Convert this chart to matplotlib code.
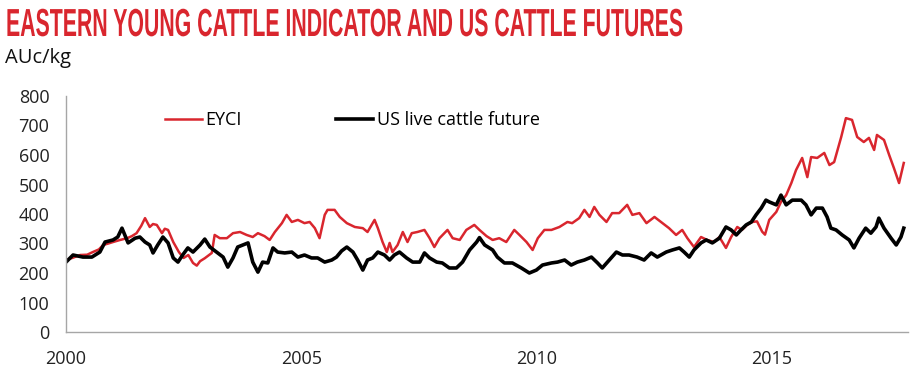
import matplotlib

matplotlib.use("Agg")
import matplotlib.pyplot as plt
from matplotlib.patheffects import AbstractPathEffect
from matplotlib.transforms import Affine2D

RED = "#d9262e"
TITLE = "EASTERN YOUNG CATTLE INDICATOR AND US CATTLE FUTURES"
UNIT = "AUc/kg"
XTICKS = [2000, 2005, 2010, 2015]
YTICKS = list(range(0, 801, 100))

# EYCI (decimal year, AUc/kg)
eyci_year = [
    2000.0, 2000.15, 2000.3, 2000.45, 2000.57, 2000.7, 2000.79, 2000.9, 2001.0, 2001.15,
    2001.3, 2001.4, 2001.5, 2001.6, 2001.68, 2001.78, 2001.85, 2001.93, 2002.04, 2002.1,
    2002.17, 2002.28, 2002.4, 2002.5, 2002.6, 2002.7, 2002.78, 2002.85, 2002.95, 2003.05,
    2003.1, 2003.16, 2003.27, 2003.42, 2003.55, 2003.7, 2003.84, 2003.97, 2004.08, 2004.22,
    2004.33, 2004.44, 2004.59, 2004.69, 2004.8, 2004.93, 2005.07, 2005.18, 2005.29, 2005.39,
    2005.5, 2005.56, 2005.71, 2005.82, 2005.97, 2006.14, 2006.31, 2006.41, 2006.56, 2006.63,
    2006.73, 2006.82, 2006.88, 2006.94, 2007.05, 2007.16, 2007.26, 2007.35, 2007.47, 2007.62,
    2007.73, 2007.83, 2007.94, 2008.11, 2008.22, 2008.37, 2008.51, 2008.68, 2008.79, 2008.94,
    2009.07, 2009.21, 2009.36, 2009.53, 2009.64, 2009.79, 2009.92, 2010.03, 2010.17, 2010.32,
    2010.49, 2010.66, 2010.76, 2010.91, 2011.02, 2011.13, 2011.23, 2011.34, 2011.49, 2011.61,
    2011.76, 2011.93, 2012.04, 2012.19, 2012.34, 2012.51, 2012.68, 2012.82, 2012.97, 2013.1,
    2013.21, 2013.35, 2013.5, 2013.63, 2013.78, 2013.89, 2014.03, 2014.14, 2014.27, 2014.37,
    2014.48, 2014.59, 2014.69, 2014.8, 2014.86, 2014.95, 2015.1, 2015.2, 2015.31, 2015.42,
    2015.52, 2015.65, 2015.76, 2015.84, 2015.97, 2016.12, 2016.23, 2016.33, 2016.48, 2016.58,
    2016.71, 2016.82, 2016.96, 2017.07, 2017.18, 2017.24, 2017.39, 2017.5, 2017.6, 2017.71,
    2017.81,
]
eyci = [
    244, 252, 261, 262, 271, 280, 295, 300, 305, 312,
    318, 325, 335, 360, 386, 356, 366, 363, 335, 350,
    346, 305, 271, 251, 261, 234, 225, 240, 250, 262,
    268, 329, 318, 318, 335, 339, 329, 322, 335, 325,
    312, 339, 369, 397, 373, 380, 369, 373, 352, 318,
    397, 414, 414, 390, 369, 356, 352, 339, 380, 352,
    305, 271, 302, 271, 295, 339, 305, 335, 339, 346,
    318, 288, 318, 346, 318, 312, 346, 363, 346, 325,
    312, 318, 305, 346, 329, 305, 278, 318, 346, 346,
    356, 373, 369, 386, 414, 390, 424, 397, 373, 403,
    403, 431, 397, 403, 369, 390, 369, 352, 329, 346,
    318, 288, 322, 312, 305, 322, 285, 322, 356, 346,
    363, 373, 375, 340, 330, 380, 407, 441, 464, 505,
    549, 590, 525, 593, 590, 607, 566, 576, 661, 725,
    719, 661, 644, 658, 617, 668, 651, 600, 556, 505,
    573,
]

# US live cattle future (decimal year, AUc/kg)
us_year = [
    2000.0, 2000.15, 2000.36, 2000.55, 2000.72, 2000.83, 2001.0, 2001.1, 2001.19, 2001.25,
    2001.32, 2001.47, 2001.57, 2001.68, 2001.78, 2001.85, 2001.95, 2002.06, 2002.17, 2002.28,
    2002.38, 2002.48, 2002.59, 2002.7, 2002.85, 2002.95, 2003.06, 2003.2, 2003.34, 2003.44,
    2003.55, 2003.65, 2003.76, 2003.87, 2003.97, 2004.08, 2004.18, 2004.29, 2004.4, 2004.5,
    2004.65, 2004.8, 2004.93, 2005.07, 2005.22, 2005.35, 2005.5, 2005.65, 2005.75, 2005.86,
    2005.97, 2006.1, 2006.2, 2006.31, 2006.41, 2006.52, 2006.63, 2006.77, 2006.88, 2006.98,
    2007.09, 2007.24, 2007.37, 2007.52, 2007.62, 2007.73, 2007.88, 2008.0, 2008.15, 2008.3,
    2008.43, 2008.58, 2008.73, 2008.79, 2008.9, 2009.07, 2009.17, 2009.32, 2009.49, 2009.68,
    2009.85, 2010.0, 2010.13, 2010.32, 2010.45, 2010.6, 2010.74, 2010.87, 2011.02, 2011.17,
    2011.3, 2011.4, 2011.55, 2011.7, 2011.83, 2011.97, 2012.14, 2012.29, 2012.44, 2012.57,
    2012.76, 2012.89, 2013.04, 2013.14, 2013.25, 2013.35, 2013.5, 2013.61, 2013.74, 2013.89,
    2014.03, 2014.14, 2014.25, 2014.35, 2014.46, 2014.57, 2014.67, 2014.78, 2014.88, 2014.95,
    2015.1, 2015.2, 2015.31, 2015.44, 2015.63, 2015.73, 2015.84, 2015.95, 2016.08, 2016.18,
    2016.26, 2016.37, 2016.5, 2016.65, 2016.75, 2016.86, 2017.0, 2017.11, 2017.22, 2017.28,
    2017.39, 2017.54, 2017.65, 2017.75, 2017.81,
]
us = [
    237, 261, 254, 254, 271, 305, 312, 322, 352, 329,
    302, 318, 322, 305, 295, 268, 295, 322, 302, 251,
    237, 261, 285, 271, 295, 315, 288, 271, 254, 220,
    251, 288, 295, 302, 237, 203, 237, 234, 285, 271,
    268, 271, 254, 261, 251, 251, 237, 244, 254, 275,
    288, 271, 244, 210, 244, 251, 271, 261, 244, 261,
    271, 251, 237, 237, 268, 251, 237, 234, 217, 217,
    237, 278, 305, 320, 295, 278, 254, 234, 234, 217,
    200, 210, 227, 234, 237, 244, 227, 237, 244, 254,
    234, 217, 244, 271, 261, 261, 254, 244, 268, 254,
    271, 278, 285, 271, 254, 278, 302, 312, 302, 318,
    356, 346, 329, 346, 363, 373, 397, 420, 447, 441,
    431, 464, 431, 447, 447, 431, 397, 420, 420, 390,
    352, 346, 329, 312, 285, 318, 352, 335, 356, 386,
    352, 318, 295, 322, 352,
]


class Squeeze(AbstractPathEffect):
    """Draw text glyphs scaled about an anchor point (mimics a condensed display face)."""

    def __init__(self, x0, y0, sx, sy):
        super().__init__()
        self._t = Affine2D().translate(-x0, -y0).scale(sx, sy).translate(x0, y0)

    def draw_path(self, renderer, gc, tpath, affine, rgbFace=None):
        renderer.draw_path(gc, tpath, affine + self._t, rgbFace)


plt.rcParams["font.family"] = ["Open Sans", "DejaVu Sans"]

W, H = 912, 371
fig = plt.figure(figsize=(W / 100, H / 100), dpi=100)
ax = fig.add_axes([66 / W, 1 - 332 / H, 842 / W, 236 / H])

ax.plot(eyci_year, eyci, color=RED, lw=1.8, label="EYCI")
ax.plot(us_year, us, color="black", lw=2.6, label="US live cattle future")

ax.set_xlim(2000, 2017.9)
ax.set_ylim(0, 800)
ax.set_xticks(XTICKS)
ax.set_yticks(YTICKS)
ax.tick_params(length=0, labelsize=13, colors="#222222")
ax.tick_params(axis="y", pad=12)
ax.tick_params(axis="x", pad=13)
for side in ("top", "right"):
    ax.spines[side].set_visible(False)
for side in ("left", "bottom"):
    ax.spines[side].set_color("#a6a6a6")
    ax.spines[side].set_linewidth(1.0)

ax.legend(loc="center left", bbox_to_anchor=((165 - 66) / 842, (332 - 120) / 236),
          ncol=2, frameon=False, fontsize=13, handlelength=2.05, handletextpad=0.2,
          columnspacing=5.2, borderaxespad=0, borderpad=0)

# title: bold face squeezed to the narrow poster look of the original
title = fig.text(6 / W, 1 - 36 / H, TITLE, color=RED, fontsize=19, fontweight="bold",
                 family=["Liberation Sans", "DejaVu Sans"], va="baseline", ha="left")
fig.canvas.draw()
bb = title.get_window_extent()
cap_px = 0.716 * 19 * 100 / 72
title.set_path_effects([Squeeze(bb.x0, H - 36, 676 / bb.width, 28 / cap_px)])

fig.text(5 / W, 1 - 48 / H, UNIT, color="#111111", fontsize=14.5, va="top", ha="left")

fig.savefig("out.png", dpi=100)
